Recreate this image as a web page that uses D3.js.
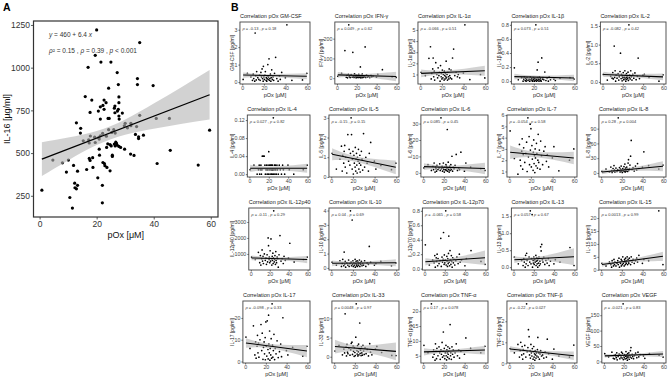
<!DOCTYPE html>
<html>
<head>
<meta charset="utf-8">
<script src="https://cdn.jsdelivr.net/npm/d3@7"></script>
<style>
body { margin: 0; background: #fff; }
text { font-family: "Liberation Sans", Arial, sans-serif; }
</style>
</head>
<body>
<svg id="fig" width="668" height="380"></svg>
<script>
// ---------- panel A: pOx vs IL-16 ----------
var pOxA = [20, 35.1, 19.5, 21.5, 25, 17, 27.2, 34.3, 34.3, 39.8, 27.6, 24.2, 16, 18.3, 27.8, 22.6, 23.3, 27.8,
  22.2, 21.3, 26.4, 22.6, 20.6, 17.7, 26.2, 27.6, 27.3, 29, 26.4, 24, 24.4, 27.8, 21.3, 27.9, 35.1, 40.9, 45.5,
  12.9, 14.4, 14.3, 30, 32, 32, 29.7, 34, 30.8, 26, 25.3, 26.5, 24.2, 22.1, 19.3, 17.8, 17.2, 20.7, 21.3, 23.4,
  33.6, 34.7, 36.4, 34.7, 59.6, 23.9, 26.9, 26.5, 25.1,
  15.3, 17.4, 19.5, 20.9, 26.7, 27.2, 27.8, 28.4, 29.8, 26.2, 24.7, 23.5, 20.9, 21, 31.9, 33.1, 45.8, 25.5, 25.5,
  4.65, 8, 10.1, 17.4, 17.7, 18.6, 22.2, 22.7, 22.9, 11.9, 18.7, 23.6, 24.7, 9.4, 13.3, 16.5, 41.2, 55.6, 20.4,
  12.3, 13.3, 12.4, 12.9, 22, 0.8, 10.6, 22, 11.5];
var il16A = [1221, 1147, 1072, 1033, 1033, 1002, 971, 936, 901, 895, 901, 880, 831, 810, 829, 810, 795, 795,
  779, 771, 775, 756, 746, 738, 763, 756, 746, 734, 736, 703, 703, 717, 699, 699, 721, 703, 703,
  677, 645, 617, 674, 674, 660, 660, 655, 648, 637, 621, 617, 637, 615, 593, 600, 578, 590, 601, 599,
  609, 595, 605, 585, 634, 554, 558, 542, 542,
  572, 559, 562, 582, 564, 547, 539, 533, 523, 553, 549, 533, 523, 488, 494, 486, 516, 488, 480,
  459, 443, 459, 469, 457, 473, 445, 439, 426, 428, 416, 416, 396, 389, 394, 404, 439, 430, 355,
  324, 311, 297, 291, 311, 283, 240, 209, 178];
var fitA = [460, 6.4];   // intercept, slope
var bandXA = [0.8, 10, 20, 30, 40, 50, 59.6];
var bandLoA = [366, 457, 547, 607, 642, 671, 696];
var bandHiA = [564, 591, 629, 697, 790, 889, 987];
var xTicks = [0, 20, 40, 60];
var yTicksA = [250, 500, 750, 1000, 1250];

// ---------- panel B: pOx vs cytokines ----------
var pOxB = [0.8, 4.7, 8.0, 9.4, 10.1, 10.6, 11.5, 11.9, 12.4, 12.9, 13.3,
  14.3, 15.3, 16.0, 16.5, 17.2, 17.7, 18.3, 18.7, 19.3, 19.5, 20.0,
  20.4, 20.9, 21.3, 22.0, 22.2, 22.6, 22.9, 23.3, 23.6, 23.9, 24.2,
  24.7, 25.1, 25.5, 26.0, 26.4, 26.7, 27.2, 27.8, 28.4, 29.0, 29.8,
  30.8, 31.9, 33.1, 34.3, 35.1, 36.4, 39.8, 41.2, 45.8, 55.6, 59.6];

var cytokines = ["GM-CSF", "IFN-γ", "IL-1α", "IL-1β", "IL-2", "IL-4", "IL-5", "IL-6", "IL-7", "IL-8",
  "IL-12p40", "IL-10", "IL-12p70", "IL-13", "IL-15", "IL-17", "IL-33", "TNF-α", "TNF-β", "VEGF"];

var gmcsf = [0.15, 0.5, 0.3, 0.1, 0.45, 0.2, 0.05, 2.81, 0.35, 0.12, 0.6,
  0.25, 0.15, 0.4, 0.1, 0.55, 0.3, 0.75, 0.2, 0.05, 0.9, 0.3,
  0.15, 0.4, 0.6, 0.1, 0.25, 0.05, 0.2, 0.35, 1.0, 0.15, 0.3,
  1.33, 0.1, 0.2, 0.45, 0.05, 0.25, 0.7, 0.15, 0.3, 0.1, 0.5,
  1.42, 0.2, 0.05, 0.35, 0.15, 0.55, 0.25, 3.28, 0.1, 0.12, 0.5];
var ifng = [10, 25, 140, 5, 15, 2, 20, 270, 8, 12, 3,
  18, 6, 131, 10, 4, 22, 9, 14, 2, 7, 16,
  5, 11, 3, 19, 8, 6, 13, 4, 57, 9, 2,
  15, 7, 21, 3, 10, 5, 12, 8, 158, 4, 17,
  6, 9, 3, 14, 7, 11, 5, 20, 43, 8, 4];
var il1a = [1.2, 0.9, 2.45, 3.49, 0.6, 1.1, 1.5, 2.48, 0.8, 1.3, 0.5,
  2.06, 1.0, 0.7, 1.6, 0.9, 1.2, 0.4, 1.8, 0.8, 1.1, 0.6,
  1.4, 0.7, 1.0, 0.5, 1.3, 0.9, 0.6, 1.1, 0.8, 2.2, 0.7,
  1.0, 0.5, 1.2, 0.8, 0.6, 1.5, 0.9, 0.7, 1.4, 0.6, 2.48,
  3.28, 0.9, 1.2, 0.8, 1.0, 0.7, 1.13, 5.46, 0.54, 1.0, 0.69];
var il1b = [0.19, 0.02, 0.05, 0.0, 0.03, 0.06, 0.01, 0.04, 0.0, 0.02, 0.05,
  0.01, 0.03, 0.0, 0.06, 0.02, 0.04, 0.01, 0.0, 0.03, 0.05, 0.02,
  0.0, 0.04, 0.01, 0.8, 0.03, 0.0, 0.02, 0.16, 0.05, 0.01, 0.27,
  0.03, 0.0, 0.06, 0.02, 0.04, 0.01, 0.0, 0.33, 0.03, 0.05, 0.02,
  0.13, 0.01, 0.04, 0.0, 0.06, 0.02, 0.03, 0.01, 0.04, 0.05, 0.03];
var il2 = [0.2, 0.05, 0.15, 0.1, 0.25, 0.08, 0.96, 0.12, 0.3, 0.02, 0.18,
  0.1, 0.22, 0.05, 0.14, 0.28, 0.77, 0.09, 0.2, 0.03, 0.16, 0.11,
  0.25, 0.06, 0.13, 0.3, 0.08, 0.18, 0.02, 0.12, 0.22, 0.07, 0.15,
  0.1, 0.26, 0.04, 1.53, 0.12, 0.19, 0.08, 0.3, 0.14, 0.05, 0.2,
  0.1, 0.24, 0.06, 0.15, 0.64, 0.09, 0.18, 0.2, 0.12, 0.02, 0.19];
var il4 = [0.01, 0.02, 0.0, 0.01, 0.02, 0.0, 0.01, 0.02, 0.0, 0.01, 0.04,
  0.04, 0.04, 0.02, 0.0, 0.01, 0.02, 0.0, 0.01, 0.02, 0.0, 0.05,
  0.01, 0.02, 0.0, 0.02, 0.01, 0.0, 0.02, 0.01, 0.0, 0.02, 0.01,
  0.125, 0.0, 0.01, 0.02, 0.0, 0.02, 0.01, 0.0, 0.02, 0.01, 0.0,
  0.02, 0.01, 0.0, 0.02, 0.01, 0.0, 0.02, 0.01, 0.0, 0.01, 0.02];
var il5 = [1.2, 0.4, 0.9, 1.56, 0.3, 1.1, 0.7, 1.3, 1.6, 0.5, 1.0,
  0.2, 2.15, 0.8, 1.4, 0.6, 1.2, 3.0, 2.15, 0.4, 0.9, 1.3,
  0.15, 1.1, 0.7, 0.5, 1.5, 0.3, 0.9, 1.2, 0.6, 0.2, 1.0,
  0.8, 1.4, 0.4, 0.7, 1.1, 0.25, 0.6, 1.3, 0.9, 0.35, 2.2,
  0.5, 1.0, 0.7, 0.3, 1.2, 1.75, 0.8, 0.4, 0.58, 0.37, 0.7];
var il6 = [3, 5, 1.5, 4, 2, 6, 0.5, 3.5, 2.5, 1, 4.5,
  2, 3, 5.5, 1.5, 33.5, 2.5, 4, 1, 3, 6, 2,
  0.5, 3.5, 2, 5, 1.5, 4, 2.5, 26.4, 1, 3, 6.5,
  2, 0.5, 4, 1.5, 3, 5, 2, 10.1, 1, 3.5, 2.5,
  4.5, 11.2, 1.5, 3, 2, 12.6, 1, 6, 3.5, 2.6, 1.5];
var il7 = [4.6, 2.15, 0.76, 3.4, 2.0, 1.5, 2.8, 3.9, 1.2, 2.5, 3.1,
  1.8, 2.6, 3.6, 1.0, 5.76, 2.3, 4.1, 1.6, 5.2, 2.9, 4.8,
  1.4, 3.3, 2.1, 1.1, 2.7, 3.8, 1.7, 2.4, 0.9, 3.0, 2.2,
  1.5, 3.5, 2.6, 1.3, 2.0, 4.3, 1.8, 2.9, 1.2, 3.7, 2.4,
  1.6, 2.8, 3.2, 1.9, 2.5, 1.4, 2.2, 3.2, 1.06, 2.0, 3.0];
var il8 = [3, 8, 2, 12, 5, 1, 9, 4, 15, 6, 2,
  10, 3, 7, 112, 5, 11, 2, 8, 14, 4, 6,
  1, 9, 5, 13, 3, 7, 18, 2, 10, 6, 4,
  12, 8, 3, 20, 27, 5, 9, 16, 34, 66, 7,
  11, 4, 14, 6, 19, 9, 12, 43, 15, 8, 16];
var il12p40 = [800, 650, 1100, 450, 900, 300, 700, 1250, 550, 850, 400,
  1000, 600, 750, 350, 950, 500, 2000, 1520, 650, 800, 450,
  1200, 550, 1940, 700, 300, 850, 600, 1050, 400, 750, 3700,
  500, 650, 900, 350, 1150, 600, 450, 800, 700, 170, 950,
  2150, 550, 700, 400, 850, 600, 750, 1670, 500, 650, 800];
var il10 = [0.4, 0.2, 0.5, 0.1, 0.3, 0.6, 0.15, 1.1, 0.25, 0.45, 0.05,
  0.35, 0.2, 0.55, 0.1, 0.3, 3.98, 0.4, 0.15, 3.34, 0.25, 0.5,
  0.1, 0.35, 0.2, 0.6, 0.05, 0.3, 0.45, 0.15, 0.25, 0.5, 0.1,
  0.4, 0.2, 0.3, 0.55, 0.1, 0.35, 0.25, 0.45, 0.15, 0.3, 0.2,
  0.5, 0.1, 0.35, 0.25, 1.5, 0.4, 0.2, 0.3, 0.45, 0.15, 0.35];
var il12p70 = [0.33, 0.05, 0.12, 0.08, 0.18, 0.02, 0.15, 0.1, 0.2, 0.04, 0.14,
  0.07, 0.11, 0.42, 0.03, 0.16, 0.09, 0.13, 0.5, 0.06, 0.19, 0.08,
  0.12, 0.8, 0.05, 0.17, 0.1, 0.03, 0.14, 0.07, 0.21, 0.45, 0.09,
  0.04, 0.25, 0.12, 0.06, 0.18, 0.1, 0.02, 0.15, 0.08, 0.13, 0.05,
  0.11, 0.16, 0.07, 0.2, 0.09, 0.12, 0.04, 0.14, 0.25, 0.1, 0.06];
var il13 = [0.3, 0.1, 0.2, 0.05, 0.25, 0.15, 0.0, 0.35, 0.1, 0.41, 0.2,
  0.05, 0.3, 0.15, 1.66, 0.1, 0.25, 1.55, 0.0, 0.2, 0.12, 0.3,
  0.08, 0.22, 0.15, 0.35, 0.05, 0.18, 0.28, 0.1, 0.2, 0.0, 0.25,
  0.12, 0.3, 0.05, 0.18, 0.1, 0.6, 0.48, 0.67, 0.22, 0.15, 0.3,
  0.08, 0.2, 0.12, 0.25, 0.05, 0.18, 0.1, 0.22, 0.15, 0.58, 0.05];
var il15 = [2.5, 1.5, 3, 2, 1, 3.5, 2.5, 1.5, 4, 2, 3,
  1.5, 2.5, 3.5, 2, 4.5, 1, 3, 2.5, 4, 1.5, 3.5,
  2, 5, 2.5, 3, 1.5, 4, 3.5, 2, 4.5, 3, 2.5,
  3.5, 5, 2, 4, 3, 2.5, 4.5, 3.5, 2, 5, 3,
  4, 2.5, 3.5, 4.5, 3, 5.6, 2.5, 4, 3.5, 22.8, 2];
var il17 = [11.2, 6, 16.4, 3, 9, 1.5, 7, 12, 4, 8.5, 2,
  10, 17, 5, 13, 1, 6.5, 9, 3.5, 11, 0.8, 18.2,
  7, 2.5, 18.7, 5.5, 1.2, 21.3, 8, 4, 14, 0.6, 6,
  3, 10.5, 1.5, 26.5, 7.5, 2, 5, 12.5, 0.9, 6, 3.5,
  9.5, 1.8, 4.5, 8, 2.2, 20.1, 5, 3, 6.5, 2.5, 7];
var il33 = [1.5, 3, 0.5, 2, 1, 11.2, 2.5, 0.2, 3.2, 1.2, 0.8,
  2.2, 0.4, 1.8, 3.5, 3.8, 0.6, 2.8, 1.4, 0.1, 2.4, 1.1,
  0.3, 5.1, 13.8, 1.6, 0.7, 2.9, 0.2, 1.3, 3.3, 0.5, 2.1,
  8.8, 0.9, 1.7, 0.3, 2.6, 1.0, 0.4, 3.0, 1.5, 0.6, 2.3,
  0.8, 1.9, 0.2, 3.4, 1.2, 0.5, 2.0, 2.7, 1.1, 0.35, 0.3];
var tnfa = [8.5, 6, 22.5, 4.5, 7, 5.5, 3.5, 9, 6.5, 4, 7.5,
  5, 8, 6, 3.8, 7, 5.5, 9.5, 4.5, 6.5, 13, 5,
  7.5, 4, 6, 8.5, 5, 3.6, 7, 6, 4.5, 8, 5.5,
  6.5, 4, 7.5, 15.5, 5, 6, 3.8, 8, 5.5, 7, 4.5,
  6, 9, 5, 7, 4.2, 6.5, 5.5, 11, 7.5, 6, 8.2];
var tnfb = [0.7, 0.5, 0.9, 0.3, 0.6, 1.0, 0.4, 0.8, 0.2, 0.65, 0.45,
  0.85, 0.3, 2.83, 0.55, 0.75, 1.6, 1.27, 0.4, 0.6, 0.25, 0.9,
  0.5, 0.35, 0.7, 0.2, 0.55, 0.8, 0.3, 0.45, 0.15, 0.6, 0.4,
  0.25, 0.5, 0.35, 0.65, 1.23, 0.3, 0.5, 0.2, 0.45, 0.6, 0.35,
  0.4, 0.25, 0.55, 0.3, 1.15, 0.45, 0.2, 0.68, 0.35, 0.3, 0.87];
var vegf = [25, 15, 30, 10, 20, 8, 22, 18, 12, 28, 5,
  16, 24, 9, 20, 14, 30, 11, 26, 187, 6, 19,
  13, 22, 8, 17, 32, 10, 21, 15, 4, 25, 12,
  18, 28, 7, 20, 14, 35, 45, 11, 23, 16, 9,
  19, 27, 12, 30, 15, 22, 18, 10, 25, 20, 14];

var seriesB = [gmcsf, ifng, il1a, il1b, il2, il4, il5, il6, il7, il8,
  il12p40, il10, il12p70, il13, il15, il17, il33, tnfa, tnfb, vegf];

// fitted line at lowest / highest pOx
var fitB = [[0.40, 0.33], [17, 9], [1.1, 1.34], [0.065, 0.045], [0.2, 0.135],
  [0.013, 0.013], [1.15, 0.49], [3.8, 2.7], [2.7, 2.2], [2, 13.6],
  [750, 646], [0.32, 0.36], [0.095, 0.15], [0.22, 0.31], [2.0, 5.2],
  [8.5, 4.8], [2.65, 1.4], [6.3, 6.9], [0.68, 0.36], [18, 24]];
// half width of the confidence band at low, middle, high pOx
var bandHalfB = [[0.15, 0.08, 0.17], [15, 8, 24], [0.35, 0.17, 0.45], [0.04, 0.02, 0.045], [0.07, 0.04, 0.09],
  [0.008, 0.004, 0.01], [0.3, 0.14, 0.35], [2.0, 1.0, 3.5], [0.6, 0.25, 0.55], [4.5, 2.5, 10],
  [150, 80, 230], [0.2, 0.1, 0.25], [0.05, 0.025, 0.1], [0.1, 0.05, 0.25], [0.8, 0.4, 1.8],
  [2.2, 1.0, 2.8], [1.8, 0.8, 2.3], [1.2, 0.5, 1.5], [0.15, 0.07, 0.2], [6, 3, 10]];

var rhoB = ["-0.13", "0.049", "-0.066", "0.073", "-0.082", "0.027", "-0.15", "0.085", "-0.054", "0.28",
  "-0.11", "0.04", "-0.065", "0.057", "0.0013", "-0.098", "0.0048", "0.17", "-0.22", "-0.021"];
var pB = ["0.18", "0.62", "0.51", "0.51", "0.42", "0.82", "0.15", "0.45", "0.58", "0.004",
  "0.29", "0.69", "0.58", "0.67", "0.99", "0.33", "0.97", "0.078", "0.027", "0.83"];

var yTickLabels = [["0", "1", "2", "3"], ["0", "100", "200"], ["1", "2", "3", "4", "5"],
  ["0.0", "0.2", "0.4", "0.6", "0.8"], ["0.0", "0.5", "1.0", "1.5"], ["0.00", "0.04", "0.08", "0.12"],
  ["0", "1", "2", "3"], ["0", "10", "20", "30"], ["1", "2", "3", "4", "5", "6"], ["0", "30", "60", "90"],
  ["1000", "2000", "3000"], ["0", "1", "2", "3", "4"], ["0.0", "0.2", "0.4", "0.6", "0.8"],
  ["0.0", "0.5", "1.0", "1.5"], ["0", "5", "10", "15", "20"], ["0", "10", "20"], ["0", "5", "10"],
  ["5", "10", "15", "20"], ["0", "1", "2"], ["0", "50", "100", "150"]];

var svg = d3.select("#fig");

// ggplot style 5% expansion
function padExt(ext) {
    var r = ext[1] - ext[0];
    return [ext[0] - 0.05 * r, ext[1] + 0.05 * r];
}

function addParts(sel, parts) {
    parts.forEach(function (p) {
        sel.append("tspan").attr("font-style", p[1] ? "italic" : null).text(p[0]);
    });
}

function styleAxis(ax, size, color) {
    ax.attr("font-size", size).attr("font-family", null);
    ax.select(".domain").remove();
    ax.selectAll("line").attr("stroke", color).attr("stroke-width", 0.8);
    ax.selectAll("text").attr("fill", color);
}

function plotA() {
    var left = 33.5, right = 218, top = 21, bottom = 217;
    var x = d3.scaleLinear().domain(padExt(d3.extent(pOxA))).range([left, right]);
    var y = d3.scaleLinear().domain(padExt(d3.extent(il16A))).range([bottom, top]);
    var g = svg.append("g");

    g.append("clipPath").attr("id", "clipA").append("rect")
        .attr("x", left).attr("y", top).attr("width", right - left).attr("height", bottom - top);
    var plot = g.append("g").attr("clip-path", "url(#clipA)");

    plot.selectAll("circle").data(pOxA).enter().append("circle")
        .attr("cx", function (d) { return x(d); })
        .attr("cy", function (d, i) { return y(il16A[i]); })
        .attr("r", 1.6)
        .attr("fill", "#000");

    var band = d3.area()
        .x(function (d, i) { return x(bandXA[i]); })
        .y0(function (d, i) { return y(bandLoA[i]); })
        .y1(function (d, i) { return y(bandHiA[i]); })
        .curve(d3.curveNatural);
    plot.append("path").datum(bandXA).attr("d", band)
        .attr("fill", "#b4b4b4").attr("fill-opacity", 0.6);

    var xr = d3.extent(pOxA);
    plot.append("line")
        .attr("x1", x(xr[0])).attr("y1", y(fitA[0] + fitA[1] * xr[0]))
        .attr("x2", x(xr[1])).attr("y2", y(fitA[0] + fitA[1] * xr[1]))
        .attr("stroke", "#000").attr("stroke-width", 1.3);

    g.append("rect").attr("x", left).attr("y", top).attr("width", right - left).attr("height", bottom - top)
        .attr("fill", "none").attr("stroke", "#333").attr("stroke-width", 1.2);

    var ax = g.append("g").attr("transform", "translate(0," + bottom + ")")
        .call(d3.axisBottom(x).tickValues(xTicks).tickSize(2.5).tickPadding(1.5));
    styleAxis(ax, 8.5, "#333");
    var ay = g.append("g").attr("transform", "translate(" + left + ",0)")
        .call(d3.axisLeft(y).tickValues(yTicksA).tickSize(2.5).tickPadding(1).tickFormat(d3.format("d")));
    styleAxis(ay, 8.5, "#333");

    g.append("text").attr("x", (left + right) / 2).attr("y", 237.5).attr("text-anchor", "middle")
        .attr("font-size", 9).attr("fill", "#111").text("pOx [μM]");
    g.append("text").attr("transform", "translate(10," + (top + bottom) / 2 + ") rotate(-90)")
        .attr("text-anchor", "middle").attr("font-size", 9).attr("fill", "#111").text("IL-16 [µg/ml]");

    var t1 = g.append("text").attr("x", 49).attr("y", 36.5).attr("font-size", 6.5).attr("fill", "#333");
    addParts(t1, [["y", 1], [" = 460 + 6.4 ", 0], ["x", 1]]);
    var t2 = g.append("text").attr("x", 49).attr("y", 53).attr("font-size", 6.5).attr("fill", "#333");
    addParts(t2, [["ρ", 1], ["² = 0.15 , ", 0], ["ρ", 1], [" = 0.39 , ", 0], ["p", 1], [" < 0.001", 0]]);

    svg.append("text").attr("x", 3).attr("y", 10.5).attr("font-size", 10.5).attr("font-weight", "bold").text("A");
}

function plotB() {
    var xExt = d3.extent(pOxB);
    var bx = [xExt[0], 24, xExt[1]];

    cytokines.forEach(function (name, i) {
        var col = i % 5, row = Math.floor(i / 5);
        var cellX = 228 + col * 89;
        var top = 22 + row * 93, bottom = top + 62, right = cellX + 82;
        var g = svg.append("g");

        var labs = yTickLabels[i];
        var probe = g.append("text").attr("font-size", 5.3);
        var lw = d3.max(labs, function (l) { probe.text(l); return probe.node().getComputedTextLength(); });
        probe.remove();
        var left = cellX + 9 + lw;

        var vals = seriesB[i], f = fitB[i], h = bandHalfB[i];
        var center = bx.map(function (v) { return f[0] + (f[1] - f[0]) * (v - xExt[0]) / (xExt[1] - xExt[0]); });
        var lo = center.map(function (c, k) { return c - h[k]; });
        var hi = center.map(function (c, k) { return c + h[k]; });

        var x = d3.scaleLinear().domain(padExt(xExt)).range([left, right]);
        var y = d3.scaleLinear().domain(padExt(d3.extent(vals.concat(lo, hi)))).range([bottom, top]);

        g.append("clipPath").attr("id", "clipB" + i).append("rect")
            .attr("x", left).attr("y", top).attr("width", right - left).attr("height", bottom - top);
        var plot = g.append("g").attr("clip-path", "url(#clipB" + i + ")");

        plot.selectAll("circle").data(pOxB).enter().append("circle")
            .attr("cx", function (d) { return x(d); })
            .attr("cy", function (d, k) { return y(vals[k]); })
            .attr("r", 0.85)
            .attr("fill", "#000");

        var band = d3.area()
            .x(function (d, k) { return x(bx[k]); })
            .y0(function (d, k) { return y(lo[k]); })
            .y1(function (d, k) { return y(hi[k]); })
            .curve(d3.curveNatural);
        plot.append("path").datum(bx).attr("d", band)
            .attr("fill", "#b4b4b4").attr("fill-opacity", 0.6);

        plot.append("line")
            .attr("x1", x(xExt[0])).attr("y1", y(f[0]))
            .attr("x2", x(xExt[1])).attr("y2", y(f[1]))
            .attr("stroke", "#000").attr("stroke-width", 1.05);

        g.append("rect").attr("x", left).attr("y", top).attr("width", right - left).attr("height", bottom - top)
            .attr("fill", "none").attr("stroke", "#444").attr("stroke-width", 0.9);

        var ax = g.append("g").attr("transform", "translate(0," + bottom + ")")
            .call(d3.axisBottom(x).tickValues(xTicks).tickSize(1.5).tickPadding(1));
        styleAxis(ax, 5.3, "#444");
        var ay = g.append("g").attr("transform", "translate(" + left + ",0)")
            .call(d3.axisLeft(y).tickValues(labs.map(Number)).tickSize(1.5).tickPadding(1)
                .tickFormat(function (d, k) { return labs[k]; }));
        styleAxis(ay, 5.3, "#444");

        g.append("text").attr("x", left).attr("y", top - 4).attr("font-size", 5.5).attr("fill", "#222")
            .text("Correlation pOx " + name);
        g.append("text").attr("x", (left + right) / 2).attr("y", bottom + 13).attr("text-anchor", "middle")
            .attr("font-size", 5.5).attr("fill", "#222").text("pOx [μM]");
        g.append("text").attr("transform", "translate(" + (cellX + 6) + "," + (top + bottom) / 2 + ") rotate(-90)")
            .attr("text-anchor", "middle").attr("font-size", 5).attr("fill", "#222").text(name + " [pg/ml]");

        var st = g.append("text").attr("x", left + 2.5).attr("y", top + 7.5).attr("font-size", 4).attr("fill", "#333");
        addParts(st, [["ρ", 1], [" = " + rhoB[i] + " , ", 0], ["p", 1], [" = " + pB[i], 0]]);
    });

    svg.append("text").attr("x", 231).attr("y", 10.5).attr("font-size", 10.5).attr("font-weight", "bold").text("B");
}

plotA();
plotB();
</script>
</body>
</html>
